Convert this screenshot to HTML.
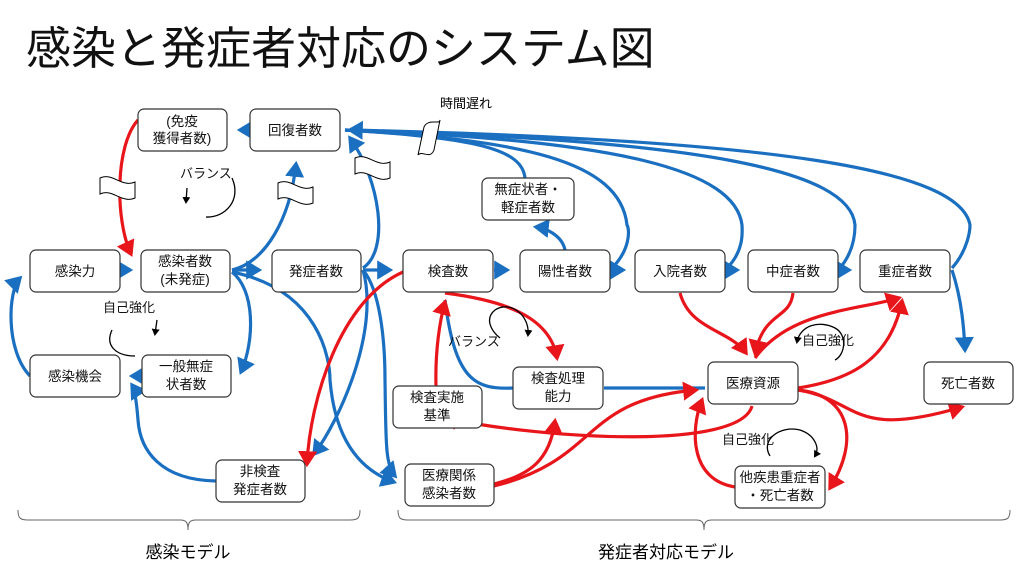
<!DOCTYPE html>
<html><head><meta charset="utf-8"><style>
body{margin:0;background:#fff;}
svg text{font-family:"Liberation Sans","Noto Sans CJK JP",sans-serif;}
</style></head><body>
<svg width="1024" height="576" viewBox="0 0 1024 576" xmlns="http://www.w3.org/2000/svg">
<defs>
<marker id="b" markerWidth="6" markerHeight="6" refX="4" refY="3" orient="auto" markerUnits="strokeWidth"><path d="M0,0 L5,3 L0,6 z" fill="#1a6fc0"/></marker>
<marker id="r" markerWidth="6" markerHeight="6" refX="4" refY="3" orient="auto" markerUnits="strokeWidth"><path d="M0,0 L5,3 L0,6 z" fill="#e8151b"/></marker>
<marker id="k" markerWidth="8" markerHeight="8" refX="5" refY="4" orient="auto" markerUnits="userSpaceOnUse"><path d="M0,0 L7,4 L0,8 z" fill="#000"/></marker>
</defs>
<text x="26" y="64" font-size="45" fill="#111">感染と発症者対応のシステム図</text>
<text x="440" y="108" font-size="13">時間遅れ</text>

<g fill="none" stroke="#1a6fc0" stroke-width="3.2">
<path d="M525,178 C522,150 480,138 345,130" />
<path d="M612,268 C630,250 630,230 627,225 C620,160 520,140 345,130" />
<path d="M727,268 C745,250 742,230 742,225 C735,170 620,140 345,130" />
<path d="M840,268 C855,250 855,230 855,225 C850,170 700,140 345,130" />
<path d="M952,268 C968,250 970,230 970,225 C960,170 780,140 350,130" marker-end="url(#b)"/>
<path d="M363,268 C390,250 380,180 350,138" marker-end="url(#b)"/>
<path d="M565,250 C562,235 545,228 536,227" marker-end="url(#b)"/>
<path d="M250,130 L240,130" marker-end="url(#b)"/>
<path d="M122,270 L130,270" marker-end="url(#b)"/>
<path d="M232,270 C265,262 290,220 296,164" marker-end="url(#b)"/>
<path d="M232,270 L259,270" marker-end="url(#b)"/>
<path d="M232,272 C255,290 255,340 241,372" marker-end="url(#b)"/>
<path d="M142,376 L132,376" marker-end="url(#b)"/>
<path d="M30,376 C5,350 8,290 20,278" marker-end="url(#b)"/>
<path d="M216,481 C160,480 140,450 138,420 C136,395 134,388 132,385" marker-end="url(#b)"/>
<path d="M232,272 C320,290 330,360 330,380 C335,440 360,470 394,482" marker-end="url(#b)"/>
<path d="M363,270 L390,270" marker-end="url(#b)"/>
<path d="M363,270 C380,290 385,340 385,380 C386,440 385,465 395,476" marker-end="url(#b)"/>
<path d="M363,270 C380,330 340,420 314,454" marker-end="url(#b)"/>
<path d="M494,270 L507,270" marker-end="url(#b)"/>
<path d="M611,270 L623,270" marker-end="url(#b)"/>
<path d="M726,270 L737,270" marker-end="url(#b)"/>
<path d="M839,270 L849,270" marker-end="url(#b)"/>
<path d="M952,270 C962,300 964,330 965,350" marker-end="url(#b)"/>
<path d="M513,388 C475,390 455,380 445,300" />
<path d="M604,388 L705,388" />
</g>
<g fill="none" stroke="#e8151b" stroke-width="3.2">
<path d="M138,120 C115,145 115,220 131,254" marker-end="url(#r)"/>
<path d="M403,272 C340,300 310,400 307,464" marker-end="url(#r)"/>
<path d="M445,293 C500,300 550,315 557,358" marker-end="url(#r)"/>
<path d="M436,386 C435,350 440,320 445,302" marker-end="url(#r)"/>
<path d="M494,484 C530,475 550,460 555,421" marker-end="url(#r)"/>
<path d="M494,486 C600,460 580,400 696,390" marker-end="url(#r)"/>
<path d="M680,293 C690,330 730,330 746,353" marker-end="url(#r)"/>
<path d="M793,293 C790,320 765,310 755,353" marker-end="url(#r)"/>
<path d="M755,358 C790,310 860,310 899,298" marker-end="url(#r)"/>
<path d="M798,388 C850,380 890,360 902,301" marker-end="url(#r)"/>
<path d="M752,406 C740,450 550,440 444,418" marker-end="url(#r)"/>
<path d="M798,390 C850,395 860,440 830,488" marker-end="url(#r)"/>
<path d="M798,390 C860,400 850,440 962,407" marker-end="url(#r)"/>
<path d="M735,487 C690,480 690,430 702,400" marker-end="url(#r)"/>
</g>
<g fill="none" stroke="#000" stroke-width="1.3">
<path d="M187,188 L186,202" marker-end="url(#k)"/>
<path d="M232,178 C242,200 225,218 206,217"/>
<path d="M157,320 L155,334" marker-end="url(#k)"/>
<path d="M112,330 C105,345 115,356 135,356"/>
<path d="M500,338 C490,330 485,318 495,310 C510,300 530,315 528,335" marker-end="url(#k)"/>
<path d="M835,360 C845,355 848,335 835,328 C820,320 800,325 797,342" marker-end="url(#k)"/>
<path d="M770,456 C760,440 780,425 800,430 C815,435 820,448 815,456" marker-end="url(#k)"/>
</g>
<g font-size="13" fill="#111">
<text x="180" y="178">バランス</text>
<text x="103" y="312">自己強化</text>
<text x="448" y="346">バランス</text>
<text x="802" y="345">自己強化</text>
<text x="722" y="444">自己強化</text>
</g>
<g fill="#fff" stroke="#000" stroke-width="1">
<path d="M100,178 C112,172 122,188 135,182 L135,198 C122,204 112,188 100,194 z"/>
<path d="M278,183 C290,177 300,193 313,187 L313,203 C300,209 290,193 278,199 z"/>
<path d="M355,158 C367,152 377,168 390,162 L390,178 C377,184 367,168 355,174 z"/>
<path d="M424,127 C428,118 440,125 440,120 L434,150 C430,160 422,150 418,155 z"/>
</g>
<g stroke="#333" stroke-width="1.2" fill="#fff">
<rect x="138" y="109" width="89" height="42" rx="6"/>
<rect x="250" y="109" width="90" height="42" rx="6"/>
<rect x="30" y="250" width="90" height="42" rx="6"/>
<rect x="141" y="250" width="89" height="42" rx="6"/>
<rect x="272" y="250" width="89" height="42" rx="6"/>
<rect x="30" y="355" width="90" height="42" rx="6"/>
<rect x="142" y="355" width="89" height="42" rx="6"/>
<rect x="216" y="460" width="89" height="42" rx="6"/>
<rect x="403" y="250" width="90" height="42" rx="6"/>
<rect x="520" y="250" width="90" height="42" rx="6"/>
<rect x="635" y="250" width="90" height="42" rx="6"/>
<rect x="748" y="250" width="90" height="42" rx="6"/>
<rect x="860" y="250" width="90" height="42" rx="6"/>
<rect x="482" y="178" width="92" height="42" rx="6"/>
<rect x="513" y="367" width="90" height="42" rx="6"/>
<rect x="708" y="362" width="90" height="42" rx="6"/>
<rect x="924" y="362" width="89" height="42" rx="6"/>
<rect x="393" y="386" width="89" height="42" rx="6"/>
<rect x="405" y="464" width="89" height="42" rx="6"/>
<rect x="735" y="466" width="90" height="42" rx="6"/>
</g>
<g font-size="13.5" fill="#111" text-anchor="middle">
<text x="182" y="126">(免疫</text><text x="182" y="143">獲得者数)</text>
<text x="295" y="135">回復者数</text>
<text x="75" y="276">感染力</text>
<text x="185" y="266">感染者数</text><text x="185" y="284">(未発症)</text>
<text x="316" y="276">発症者数</text>
<text x="75" y="381">感染機会</text>
<text x="186" y="371">一般無症</text><text x="186" y="389">状者数</text>
<text x="260" y="476">非検査</text><text x="260" y="494">発症者数</text>
<text x="448" y="276">検査数</text>
<text x="565" y="276">陽性者数</text>
<text x="680" y="276">入院者数</text>
<text x="793" y="276">中症者数</text>
<text x="905" y="276">重症者数</text>
<text x="528" y="194">無症状者・</text><text x="528" y="212">軽症者数</text>
<text x="558" y="383">検査処理</text><text x="558" y="401">能力</text>
<text x="753" y="388">医療資源</text>
<text x="968" y="388">死亡者数</text>
<text x="437" y="402">検査実施</text><text x="437" y="420">基準</text>
<text x="449" y="480">医療関係</text><text x="449" y="498">感染者数</text>
<text x="780" y="482">他疾患重症者</text><text x="780" y="500">・死亡者数</text>
</g>
<g fill="none" stroke="#666" stroke-width="1">
<path d="M18,510 C18,518 20,520 28,520 L180,520 C186,520 188,522 188,530 C188,522 190,520 196,520 L350,520 C358,520 360,518 360,510"/>
<path d="M398,510 C398,518 400,520 408,520 L696,520 C702,520 704,522 704,530 C704,522 706,520 712,520 L1000,520 C1008,520 1010,518 1010,510"/>
</g>
<text x="188" y="558" font-size="17" text-anchor="middle">感染モデル</text>
<text x="666" y="558" font-size="17" text-anchor="middle">発症者対応モデル</text>
</svg>
</body></html>
